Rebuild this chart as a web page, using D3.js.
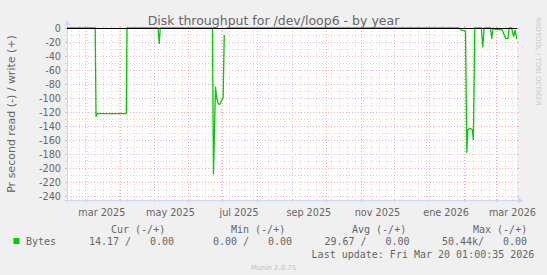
<!DOCTYPE html>
<html><head><meta charset="utf-8">
<script src="https://cdn.jsdelivr.net/npm/d3@7"></script>
<style>html,body{margin:0;padding:0;background:#f0f0f0;}svg{display:block}</style>
</head><body>
<svg id="c" width="547" height="275"></svg>
<script>
// ---------------- data ----------------
const chartTitle = "Disk throughput for /dev/loop6 - by year";
const yAxisTitle = "Pr second read (-) / write (+)";
const timeRange = ["2025-02-13T01:00:35Z", "2026-03-20T01:00:35Z"];
const times = [
  "2025-02-13T01:00","2025-03-10T03:00","2025-03-10T20:00","2025-03-11T20:00","2025-04-06T18:00","2025-04-07T08:00",
  "2025-05-04T23:00","2025-05-06T01:00","2025-05-06T23:00",
  "2025-06-22T08:00","2025-06-23T06:00","2025-06-25T01:00","2025-06-26T03:00","2025-06-27T06:00","2025-06-28T10:00",
  "2025-06-29T10:00","2025-06-30T13:00","2025-07-01T20:00","2025-07-02T20:00","2025-07-03T13:00","2025-07-04T13:00",
  "2026-01-27T11:00","2026-01-28T20:00","2026-01-30T03:00","2026-02-02T06:00","2026-02-03T11:00","2026-02-04T06:00",
  "2026-02-06T06:00","2026-02-08T08:00","2026-02-09T06:00","2026-02-10T13:00",
  "2026-02-16T08:00","2026-02-17T15:00","2026-02-18T20:00","2026-02-24T10:00","2026-02-25T15:00","2026-02-26T18:00",
  "2026-02-28T10:00","2026-03-06T20:00","2026-03-09T23:00","2026-03-12T01:00","2026-03-13T01:00","2026-03-15T06:00",
  "2026-03-17T01:00","2026-03-18T08:00","2026-03-19T18:00","2026-03-20T01:00"
];
// bytes read per second (drawn negative, as Munin does)
const readBytes = [
  0,0,126,122,122,0,
  0,22,0,
  0,208,84,100,107,109,
  107,103,99,10,null,0,
  0,1.5,3.5,4,177,145,
  143,145,159,0,
  0,27,0,0,15,0,
  2,2.5,15,15,0,0,
  12,3,15,14.17
];
const yTicks = [0,-20,-40,-60,-80,-100,-120,-140,-160,-180,-200,-220,-240];
const yMinorTicks = [-10,-30,-50,-70,-90,-110,-130,-150,-170,-190,-210,-230];
const yDomain = [-245, 0];
const xLabelMonths = ["2025-03-01","2025-05-01","2025-07-01","2025-09-01","2025-11-01","2026-01-01","2026-03-01"];
const xLabels = ["mar 2025","may 2025","jul 2025","sep 2025","nov 2025","ene 2026","mar 2026"];
const legendSeries = "Bytes";
const legendHeaders = ["Cur (-/+)","Min (-/+)","Avg (-/+)","Max (-/+)"];
const legendReads = ["14.17 /","0.00 /","29.67 /","50.44k/"];
const legendWrites = ["0.00","0.00","0.00","0.00"];
const lastUpdate = "Last update: Fri Mar 20 01:00:35 2026";
const watermark = "Munin 2.0.75";
const sideText = "RRDTOOL / TOBI OETIKER";

// ---------------- drawing ----------------
const W = 547, H = 275;
const L = 67, R = 517, T = 28, B = 200;
const svg = d3.select("#c");
const fontSans = "'DejaVu Sans', sans-serif";
const fontMono = "'DejaVu Sans Mono', monospace";
const textCol = "#666666";

svg.append("rect").attr("width", W).attr("height", H).attr("fill", "#f0f0f0");
svg.append("rect").attr("x", L).attr("y", T).attr("width", R - L).attr("height", B - T).attr("fill", "#ffffff");

const x = d3.scaleUtc().domain(timeRange.map(s => new Date(s))).range([L, R]);
const y = d3.scaleLinear().domain(yDomain).range([B, T]);
const px = v => Math.round(v) + 0.5;

const minorCol = "#dcdcdc", majorCol = "#eeb4b4";
const grid = svg.append("g");
// horizontal minor
yMinorTicks.forEach(v => {
  const yy = px(y(v));
  grid.append("line").attr("x1", L).attr("x2", R).attr("y1", yy).attr("y2", yy)
    .attr("stroke", minorCol).attr("stroke-dasharray", "1,2");
  grid.append("line").attr("x1", L - 2).attr("x2", L).attr("y1", yy).attr("y2", yy).attr("stroke", minorCol);
  grid.append("line").attr("x1", R).attr("x2", R + 2).attr("y1", yy).attr("y2", yy).attr("stroke", minorCol);
});
// vertical minor (weekly)
const [d0, d1] = x.domain();
d3.utcMonday.range(d0, d1).forEach(d => {
  const xx = px(x(d));
  grid.append("line").attr("x1", xx).attr("x2", xx).attr("y1", T).attr("y2", B)
    .attr("stroke", minorCol).attr("stroke-dasharray", "1,2");
  grid.append("line").attr("x1", xx).attr("x2", xx).attr("y1", B).attr("y2", B + 2).attr("stroke", minorCol);
  grid.append("line").attr("x1", xx).attr("x2", xx).attr("y1", T - 2).attr("y2", T).attr("stroke", minorCol);
});
// horizontal major
yTicks.forEach(v => {
  const yy = px(y(v));
  grid.append("line").attr("x1", L).attr("x2", R).attr("y1", yy).attr("y2", yy)
    .attr("stroke", majorCol).attr("stroke-dasharray", "1,2");
  grid.append("line").attr("x1", L - 2).attr("x2", L).attr("y1", yy).attr("y2", yy).attr("stroke", majorCol);
  grid.append("line").attr("x1", R).attr("x2", R + 2).attr("y1", yy).attr("y2", yy).attr("stroke", majorCol);
});
// vertical major (monthly)
d3.utcMonth.range(d0, d1).forEach(d => {
  const xx = px(x(d));
  grid.append("line").attr("x1", xx).attr("x2", xx).attr("y1", T).attr("y2", B)
    .attr("stroke", majorCol).attr("stroke-dasharray", "1,2");
  grid.append("line").attr("x1", xx).attr("x2", xx).attr("y1", B).attr("y2", B + 2).attr("stroke", majorCol);
  grid.append("line").attr("x1", xx).attr("x2", xx).attr("y1", T - 2).attr("y2", T).attr("stroke", majorCol);
});

// axes
const axisCol = "#cfd6f8";
svg.append("line").attr("x1", L - 3).attr("x2", R + 3).attr("y1", B + 0.5).attr("y2", B + 0.5).attr("stroke", axisCol);
svg.append("path").attr("d", `M${R + 1},${B - 2.5}L${R + 6},${B + 0.5}L${R + 1},${B + 3.5}Z`).attr("fill", axisCol);
svg.append("line").attr("x1", L + 0.5).attr("x2", L + 0.5).attr("y1", B + 3).attr("y2", T - 4).attr("stroke", axisCol);
svg.append("path").attr("d", `M${L - 2.5},${T - 3}L${L + 0.5},${T - 8}L${L + 3.5},${T - 3}Z`).attr("fill", axisCol);

// data line
const pts = times.map((t, i) => ({ t: new Date(t + "Z"), v: readBytes[i] }));
const line = d3.line().defined(d => d.v !== null).x(d => x(d.t)).y(d => y(-d.v));
svg.append("path").datum(pts).attr("d", line).attr("fill", "none")
  .attr("stroke", "#00cc00").attr("stroke-width", 1.3).attr("stroke-linejoin", "round");

// zero rule
svg.append("line").attr("x1", L).attr("x2", R).attr("y1", px(y(0))).attr("y2", px(y(0)))
  .attr("stroke", "#000000").attr("stroke-width", 1.2);

// y tick labels
svg.append("g").selectAll("text").data(yTicks).join("text")
  .attr("x", 61).attr("y", d => y(d) + 3.5).attr("text-anchor", "end")
  .attr("font-family", fontSans).attr("font-size", 9.7).attr("fill", textCol).text(d => d);

// x labels
svg.append("g").selectAll("text").data(xLabelMonths).join("text")
  .attr("x", d => x(d3.utcDay.offset(new Date(d + "T00:00Z"), 15)))
  .attr("y", 216).attr("text-anchor", "middle")
  .attr("font-family", fontSans).attr("font-size", 9.7).attr("fill", textCol)
  .text((d, i) => xLabels[i]);

// title
svg.append("text").attr("x", W / 2).attr("y", 24.5).attr("text-anchor", "middle")
  .attr("font-family", fontSans).attr("font-size", 12.5).attr("fill", textCol).text(chartTitle);

// y axis title
svg.append("text").attr("transform", `translate(15,${(T + B) / 2}) rotate(-90)`).attr("text-anchor", "middle")
  .attr("font-family", fontSans).attr("font-size", 11).attr("fill", textCol).text(yAxisTitle);

// side text
svg.append("text").attr("transform", `translate(535.5,17) rotate(90)`).attr("text-anchor", "start")
  .attr("font-family", fontSans).attr("font-size", 6.9).attr("fill", "#c8c8c8").text(sideText);

// legend
const lg = svg.append("g").attr("font-family", fontMono).attr("font-size", 10).attr("fill", textCol);
const headerX = [111, 231, 352, 473];
const readX = [89, 213, 324.5, 442];
const writeX = [150, 268, 385.5, 503];
legendHeaders.forEach((h, i) => lg.append("text").attr("x", headerX[i]).attr("y", 232.8).text(h));
lg.append("rect").attr("x", 13.5).attr("y", 238).attr("width", 6).attr("height", 6).attr("fill", "#00cc00");
lg.append("text").attr("x", 26).attr("y", 245).text(legendSeries);
legendReads.forEach((v, i) => lg.append("text").attr("x", readX[i]).attr("y", 245).text(v));
legendWrites.forEach((v, i) => lg.append("text").attr("x", writeX[i]).attr("y", 245).text(v));
lg.append("text").attr("x", 311.6).attr("y", 257.5).text(lastUpdate);

svg.append("text").attr("x", W / 2).attr("y", 269.5).attr("text-anchor", "middle")
  .attr("font-family", fontSans).attr("font-size", 6.9).attr("fill", "#c0c0c0").text(watermark);
</script>
</body></html>
